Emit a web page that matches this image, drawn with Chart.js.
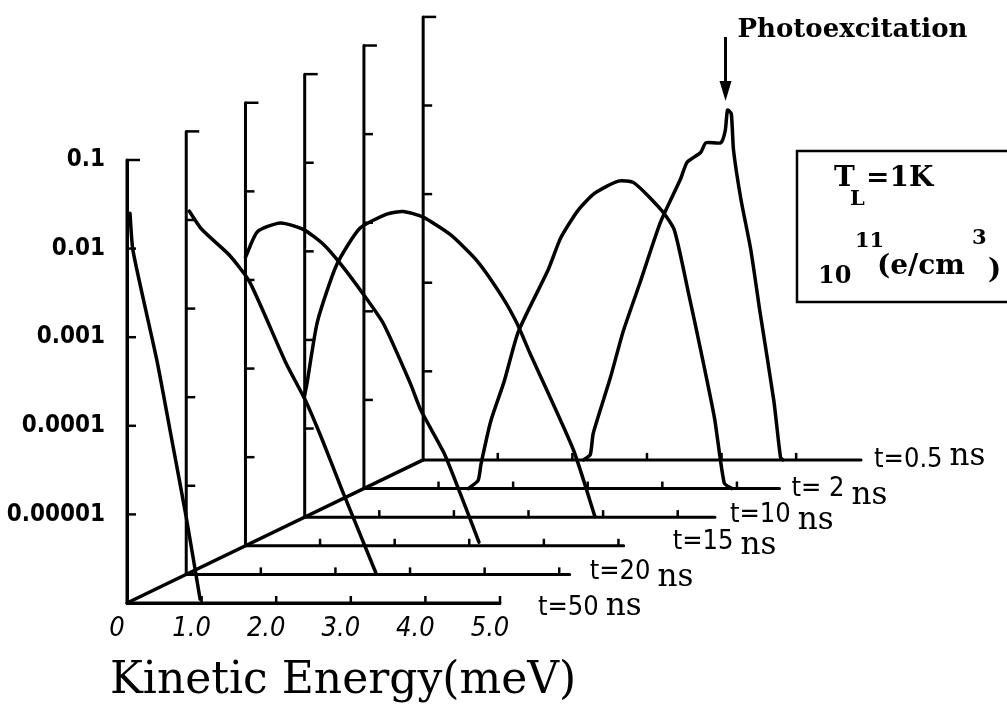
<!DOCTYPE html>
<html>
<head>
<meta charset="utf-8">
<script src="https://cdn.jsdelivr.net/npm/chart.js@4.4.1/dist/chart.umd.min.js"></script>
<style>
  html, body { margin: 0; padding: 0; background: #fff; }
  canvas { display: block; }
</style>
</head>
<body>
<canvas id="energyChart" width="1007" height="710"></canvas>
<script>
// time slices, front to back
const times = ['t=50', 't=20', 't=15', 't=10', 't= 2', 't=0.5'];
const axisEnds = [5.0, 5.14, 5.07, 5.5, 5.57, 5.87];   // meV, length of each baseline
const decades = [1e-6, 1e-5, 1e-4, 1e-3, 1e-2, 1e-1];
const yTickLabels = ['', '0.00001', '0.0001', '0.001', '0.01', '0.1'];
const xTickLabels = ['0', '1.0', '2.0', '3.0', '4.0', '5.0'];

// distribution f(E) for each time slice
const energy50 = [0.04, 0.08, 0.40, 0.60, 0.80, 0.98];
const dist50 = [0.025, 0.0095, 0.00055, 0.00007, 0.0000087, 0.0000011];

const energy20 = [0.04, 0.21, 0.58, 0.85, 1.33, 1.60, 1.83, 2.09, 2.54];
const dist20 = [0.0126, 0.0078, 0.0040, 0.0020, 0.00025, 0.000091, 0.000032, 0.0000089, 0.00000105];

const energy15 = [0.0, 0.16, 0.47, 0.78, 1.05, 1.28, 1.58, 1.85, 2.21, 2.35, 2.66, 2.85, 3.13];
const dist15 = [0.0018, 0.0035, 0.0044, 0.0037, 0.0025, 0.0015, 0.00069, 0.00032, 0.000068, 0.000034, 0.0000112, 0.0000045, 0.0000011];

const energy10 = [0.0, 0.03, 0.17, 0.43, 0.74, 1.10, 1.32, 1.58, 1.95, 2.31, 2.66, 2.85, 3.02, 3.60, 3.89];
const dist10 = [0.000024, 0.000032, 0.00016, 0.00071, 0.00182, 0.00263, 0.00282, 0.00245, 0.00155, 0.00078, 0.000295, 0.000151, 0.0000708, 0.0000058, 0.00000102];

const energy2 = [1.40, 1.53, 1.57, 1.70, 1.88, 2.07, 2.47, 2.64, 2.87, 3.09, 3.41, 3.62, 3.99, 4.16, 4.35, 4.52, 4.70, 4.83, 4.93];
const dist2 = [0.000001, 0.00000123, 0.0000019, 0.00000575, 0.0000162, 0.000059, 0.000295, 0.00068, 0.00138, 0.00214, 0.00295, 0.00282, 0.00138, 0.00083, 0.000162, 0.0000347, 0.0000062, 0.00000115, 0.000001];

const energy05 = [2.15, 2.24, 2.28, 2.51, 2.68, 2.91, 3.18, 3.45, 3.54, 3.72, 3.79, 3.99, 4.05, 4.08, 4.13, 4.16, 4.26, 4.39, 4.52, 4.70, 4.79, 4.82];
const dist05 = [0.000001, 0.00000115, 0.000002, 0.0000085, 0.000028, 0.000102, 0.00048, 0.00148, 0.0023, 0.00295, 0.0038, 0.0038, 0.00525, 0.0089, 0.0081, 0.00316, 0.00087, 0.00024, 0.000044, 0.0000047, 0.00000107, 0.000001];

const curves = [[energy50, dist50], [energy20, dist20], [energy15, dist15], [energy10, dist10], [energy2, dist2], [energy05, dist05]];

// each slice is pushed back along a diagonal (pseudo 3D)
const DEPTH_E = 0.794;   // meV per slice
const DEPTH_DEC = 0.323; // decades per slice
const proj = (i, e, f) => ({ x: e + i * DEPTH_E, y: f * Math.pow(10, i * DEPTH_DEC) });

// label placement next to each baseline end (px)
const labelDx = [38, 20, 49, 15, 12, 13];
const labelDy = [12, 5, 3, 5, 7, 7];
const nsDy = [0, 7, 5, 7, 8, -2];

const SANS = '"DejaVu Sans Condensed", "Liberation Sans", sans-serif';
const SERIF = '"DejaVu Serif", "Liberation Serif", serif';

Chart.defaults.color = '#000';

const lineStyle = { borderColor: '#000', pointRadius: 0, showLine: true, clip: false,
                    borderJoinStyle: 'round', borderCapStyle: 'round' };

const frameSets = times.map((t, i) => ({
    ...lineStyle,
    label: t + ' frame',
    data: [proj(i, axisEnds[i], decades[0]), proj(i, 0, decades[0]), proj(i, 0, decades[decades.length - 1])],
    borderWidth: 3,
    tension: 0
}));

const depthSet = {
    ...lineStyle,
    label: 'depth',
    data: [proj(0, 0, decades[0]), proj(times.length - 1, 0, decades[0])],
    borderWidth: 3.5,
    tension: 0
};

const curveSets = curves.map(([es, fs], i) => ({
    ...lineStyle,
    label: times[i] + ' ns',
    data: es.map((e, k) => proj(i, e, fs[k])),
    borderWidth: 3.5,
    tension: 0.2
}));

const decor = {
    id: 'decor',
    afterDatasetsDraw(chart) {
        const { ctx, scales: { x, y } } = chart;
        const px = (i, e, f) => {
            const p = proj(i, e, f);
            return [x.getPixelForValue(p.x), y.getPixelForValue(p.y)];
        };
        ctx.save();
        ctx.strokeStyle = '#000';
        ctx.fillStyle = '#000';
        ctx.lineWidth = 2.5;

        times.forEach((t, i) => {
            // inward ticks on the vertical axis
            decades.slice(1).forEach((d, k) => {
                const [ax, ay] = px(i, 0, d);
                const len = k === decades.length - 2 ? 13 : 9;
                ctx.beginPath(); ctx.moveTo(ax, ay); ctx.lineTo(ax + len, ay); ctx.stroke();
            });
            // ticks on the baseline
            for (let e = 1; e <= axisEnds[i]; e++) {
                const [bx, by] = px(i, e, decades[0]);
                ctx.beginPath(); ctx.moveTo(bx, by); ctx.lineTo(bx, by - 7); ctx.stroke();
            }
            // slice label
            const [ex, ey] = px(i, axisEnds[i], decades[0]);
            const lx = ex + labelDx[i], ly = ey + labelDy[i];
            ctx.textAlign = 'left';
            ctx.textBaseline = 'alphabetic';
            ctx.font = '27px ' + SANS;
            ctx.fillText(t, lx, ly);
            const w = ctx.measureText(t).width;
            ctx.font = '31px ' + SERIF;
            ctx.fillText('ns', lx + w + 7, ly + nsDy[i]);
        });

        // photoexcitation arrow onto the t=0.5 peak
        const last = curves.length - 1;
        const fs = curves[last][1];
        const kMax = fs.indexOf(Math.max(...fs));
        const [pxk, pyk] = px(last, curves[last][0][kMax], fs[kMax]);
        const ax = pxk - 2, tip = pyk - 9;
        ctx.lineWidth = 3;
        ctx.beginPath(); ctx.moveTo(ax, 37); ctx.lineTo(ax, tip - 12); ctx.stroke();
        ctx.beginPath(); ctx.moveTo(ax - 6, tip - 20); ctx.lineTo(ax + 6, tip - 20); ctx.lineTo(ax, tip); ctx.closePath(); ctx.fill();
        ctx.font = 'bold 26px ' + SERIF;
        ctx.fillText('Photoexcitation', ax + 12, 37);

        // parameter box
        ctx.lineWidth = 2.5;
        ctx.strokeRect(797, 151, 260, 151);
        ctx.font = 'bold 28px ' + SERIF;
        ctx.fillText('T', 834, 186);
        ctx.fillText('=1K', 866, 186);
        ctx.fillText('(e/cm', 877, 274);
        ctx.fillText(')', 988, 278);
        ctx.font = 'bold 24px ' + SERIF;
        ctx.fillText('10', 818, 283);
        ctx.font = 'bold 21px ' + SERIF;
        ctx.fillText('L', 850, 205);
        ctx.fillText('11', 855, 247);
        ctx.fillText('3', 972, 244);

        // axis title
        ctx.font = '44px ' + SERIF;
        ctx.fillText('Kinetic Energy(meV)', 110, 693);
        ctx.restore();
    }
};

const chart = new Chart(document.getElementById('energyChart'), {
    type: 'scatter',
    data: { datasets: [...frameSets, depthSet, ...curveSets] },
    options: {
        responsive: false,
        animation: false,
        layout: { autoPadding: false, padding: { left: 0, top: 160, right: 507, bottom: 0 } },
        plugins: { legend: { display: false }, tooltip: { enabled: false } },
        scales: {
            x: {
                type: 'linear',
                // range set after data limits so the receding slices are not cut off
                afterDataLimits: s => { s.min = 0; s.max = 5; },
                afterFit: s => { s.height = 107; },
                grid: { display: false },
                border: { display: true, color: '#000', width: 3 },
                ticks: {
                    stepSize: 1,
                    autoSkip: false,
                    maxRotation: 0,
                    padding: 2,
                    labelOffset: -10,
                    font: { family: SANS, size: 27, style: 'italic' },
                    callback: v => xTickLabels[v]
                }
            },
            y: {
                type: 'logarithmic',
                min: decades[0],
                max: decades[decades.length - 1],
                afterBuildTicks: s => { s.ticks = decades.map(v => ({ value: v })); },
                afterFit: s => { s.width = 127; },
                grid: { display: false },
                border: { display: true, color: '#000', width: 3 },
                ticks: {
                    padding: 14,
                    font: { family: SANS, size: 24, weight: 'bold' },
                    callback: v => yTickLabels[decades.findIndex(d => Math.abs(Math.log10(d) - Math.log10(v)) < 0.01)]
                }
            }
        }
    },
    plugins: [decor]
});
</script>
</body>
</html>
